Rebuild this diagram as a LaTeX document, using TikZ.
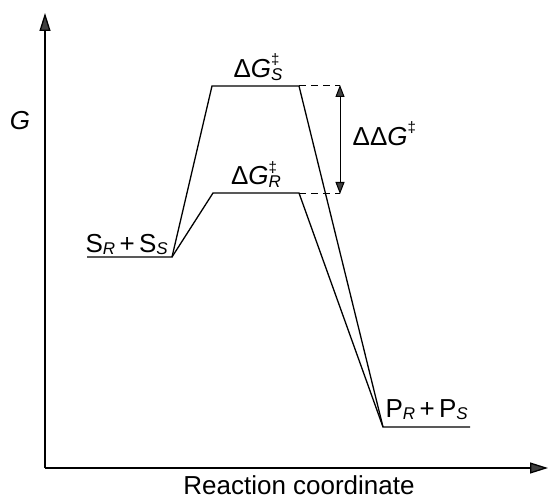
\documentclass[tikz,border=0pt]{standalone}
\usepackage{fontspec}
\setmainfont{Liberation Sans}
\usetikzlibrary{arrows.meta}

\newcommand{\supsub}[2]{\rlap{\raisebox{0.5em}{\fontsize{15}{15}\selectfont #1}}\raisebox{-0.1em}{\fontsize{17}{17}\selectfont\itshape #2}}

\begin{document}
\begin{tikzpicture}[x=1pt, y=-1pt, line width=1.3pt,
  lbl/.style={font=\fontsize{26}{30}\selectfont, inner sep=0pt},
  axis/.style={-{Triangle[length=18pt, width=11pt, fill=gray!50!black]}},
  gap/.style={{Triangle[length=12pt, width=9pt, fill=gray!50!black]}-{Triangle[length=12pt, width=9pt, fill=gray!50!black]}, line width=1pt},
  guide/.style={dashed, dash pattern=on 7pt off 5pt, line width=1pt}]
  \useasboundingbox (0,0) rectangle (549,500);

  \coordinate (O) at (45, 468);
  \coordinate (Ytip) at (45, 13);
  \coordinate (Xtip) at (548, 468);

  \coordinate (SL) at (87, 257);
  \coordinate (SR) at (172, 257);
  \coordinate (TSL) at (212, 86);
  \coordinate (TSR) at (299, 86);
  \coordinate (TRL) at (213, 193);
  \coordinate (TRR) at (299, 193);
  \coordinate (PL) at (383, 427);
  \coordinate (PR) at (470, 427);
  \coordinate (DS) at (340, 86);
  \coordinate (DR) at (340, 193);

  % axes
  \draw[axis] (O) -- (Ytip);
  \draw[axis] (O) -- (Xtip);

  % energy profiles
  \draw (SL) -- (SR) -- (TSL) -- (TSR) -- (PL) -- (PR);
  \draw (SR) -- (TRL) -- (TRR) -- (PL);

  % difference of barriers
  \draw[guide] (TSR) -- (DS);
  \draw[guide] (TRR) -- (DR);
  \draw[gap] ([yshift=1pt]DS) -- ([yshift=-1pt]DR);

  \node[lbl, anchor=base] (gS) at (258, 78) {Δ\textit{G}\supsub{‡}{S}};
  \node[lbl, anchor=base] (gR) at (256, 185) {Δ\textit{G}\supsub{‡}{R}};
  \node[lbl, anchor=base west] (ddg) at (352, 146) {ΔΔ\textit{G}\raisebox{0.5em}{\fontsize{15}{15}\selectfont ‡}};
  \node[lbl, anchor=base west] (react) at (85, 252) {S\supsub{}{R}\,+\,S\supsub{}{S}};
  \node[lbl, anchor=base west] (prod) at (385, 417) {P\supsub{}{R}\,+\,P\supsub{}{S}};
  \node[lbl, anchor=base] (Glab) at (20, 130) {\textit{G}};
  \node[lbl, anchor=base] (xlab) at (299, 494) {Reaction coordinate};
\end{tikzpicture}
\end{document}
